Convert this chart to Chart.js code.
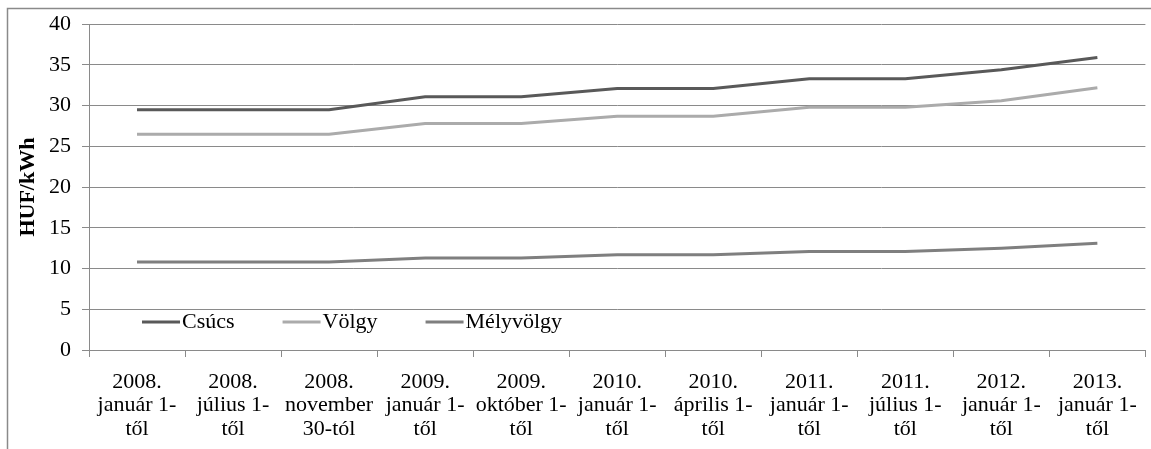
<!DOCTYPE html>
<html>
<head>
<meta charset="utf-8">
<script src="https://cdn.jsdelivr.net/npm/chart.js@4.4.1/dist/chart.umd.min.js"></script>
<style>
  html, body { margin: 0; padding: 0; background: #fff; }
  #wrap { width: 1151px; height: 449px; }
</style>
</head>
<body>
<div id="wrap"><canvas id="plot" width="1151" height="449"></canvas></div>
<script>
const categories = [
  ['2008.', 'január 1-', 'től'],
  ['2008.', 'július 1-', 'től'],
  ['2008.', 'november', '30-tól'],
  ['2009.', 'január 1-', 'től'],
  ['2009.', 'október 1-', 'től'],
  ['2010.', 'január 1-', 'től'],
  ['2010.', 'április 1-', 'től'],
  ['2011.', 'január 1-', 'től'],
  ['2011.', 'július 1-', 'től'],
  ['2012.', 'január 1-', 'től'],
  ['2013.', 'január 1-', 'től']
];
const csucs = [29.5, 29.5, 29.5, 31.1, 31.1, 32.1, 32.1, 33.3, 33.3, 34.4, 35.9];
const volgy = [26.5, 26.5, 26.5, 27.8, 27.8, 28.7, 28.7, 29.8, 29.8, 30.6, 32.2];
const melyvolgy = [10.8, 10.8, 10.8, 11.3, 11.3, 11.7, 11.7, 12.1, 12.1, 12.5, 13.1];
const yTitle = 'HUF/kWh';

const serif = "'Liberation Serif', 'Times New Roman', serif";

// frame around the whole chart (cut off at right and bottom in the original)
const framePlugin = {
  id: 'frame',
  beforeDraw(chart) {
    const ctx = chart.ctx;
    ctx.save();
    ctx.strokeStyle = '#8a8a8a';
    ctx.lineWidth = 1.5;
    ctx.strokeRect(7.5, 8.5, 1200, 500);
    ctx.restore();
  }
};

// legend drawn inside the plot, bottom left
const innerLegend = {
  id: 'innerLegend',
  afterDatasetsDraw(chart) {
    const ctx = chart.ctx;
    const area = chart.chartArea;
    let x = area.left + 53;
    const y = area.bottom - 28;
    ctx.save();
    ctx.font = '22px ' + serif;
    ctx.textBaseline = 'middle';
    chart.data.datasets.forEach(ds => {
      ctx.strokeStyle = ds.borderColor;
      ctx.lineWidth = 3;
      ctx.beginPath();
      ctx.moveTo(x, y);
      ctx.lineTo(x + 38, y);
      ctx.stroke();
      x += 40;
      ctx.fillStyle = '#000';
      ctx.fillText(ds.label, x, y);
      x += ctx.measureText(ds.label).width + 48;
    });
    ctx.restore();
  }
};

const ctx = document.getElementById('plot').getContext('2d');
new Chart(ctx, {
  type: 'line',
  data: {
    labels: categories,
    datasets: [
      { label: 'Csúcs', data: csucs, borderColor: '#595959', borderWidth: 3, pointRadius: 0, tension: 0 },
      { label: 'Völgy', data: volgy, borderColor: '#ababab', borderWidth: 3, pointRadius: 0, tension: 0 },
      { label: 'Mélyvölgy', data: melyvolgy, borderColor: '#7f7f7f', borderWidth: 3, pointRadius: 0, tension: 0 }
    ]
  },
  options: {
    responsive: false,
    animation: false,
    layout: { padding: { left: 7, top: 18, right: 5, bottom: 0 } },
    plugins: {
      legend: { display: false },
      tooltip: { enabled: false }
    },
    scales: {
      x: {
        offset: true,
        grid: { offset: true, drawOnChartArea: false, drawTicks: true, tickLength: 7, color: '#8a8a8a' },
        border: { color: '#8a8a8a' },
        ticks: { color: '#000', font: { family: serif, size: 22, lineHeight: 1.05 }, maxRotation: 0, autoSkip: false, padding: 14 },
        afterFit(scale) { scale.height = 99; }
      },
      y: {
        min: 0,
        max: 40,
        ticks: { stepSize: 5, color: '#000', font: { family: serif, size: 22 }, padding: 11 },
        grid: { color: '#8a8a8a', tickLength: 7 },
        border: { color: '#8a8a8a' },
        title: { display: true, text: yTitle, color: '#000', font: { family: serif, size: 22, weight: 'bold' }, padding: { top: 8, bottom: 0 } },
        afterFit(scale) { scale.width = 82; }
      }
    }
  },
  plugins: [framePlugin, innerLegend]
});
</script>
</body>
</html>
